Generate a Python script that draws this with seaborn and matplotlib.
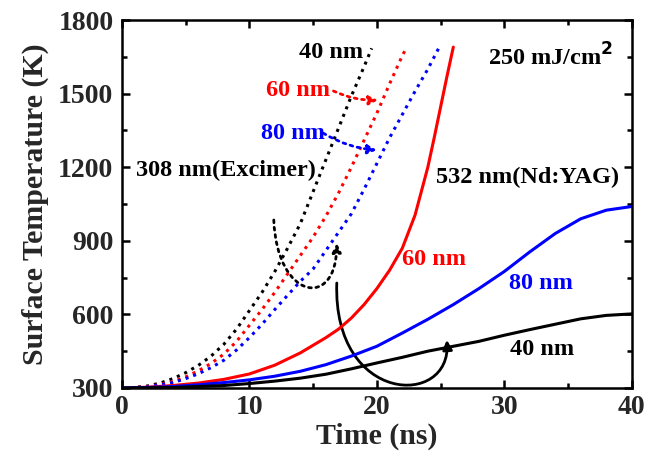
import pandas as pd
import numpy as np
import seaborn as sns
import matplotlib.pyplot as plt
from matplotlib.ticker import MultipleLocator
from matplotlib.patches import FancyArrowPatch
from matplotlib.path import Path

# 308 nm (Excimer) - dotted curves
t_exc_40 = [0, 1, 2, 3, 4, 5, 6, 7, 8, 9, 10, 11, 12, 13, 14, 15, 16, 17, 18, 19, 19.6]
T_exc_40 = [300, 302, 308, 320, 338, 362, 392, 430, 478, 540, 615, 690, 775, 870, 970, 1100, 1230, 1360, 1490, 1610, 1685]

t_exc_60 = [0, 1, 2, 3, 4, 5, 6, 7, 8, 9, 10, 11, 12, 13, 14, 15, 16, 17, 18, 19, 20, 21, 22, 22.3]
T_exc_60 = [300, 302, 306, 314, 326, 345, 370, 400, 438, 490, 555, 620, 690, 765, 840, 915, 1000, 1095, 1200, 1310, 1420, 1540, 1655, 1685]

t_exc_80 = [0, 1, 2, 3, 4, 5, 6, 7, 8, 9, 10, 11, 12, 13, 14, 15, 16, 17, 18, 19, 20, 21, 22, 23, 24, 24.9]
T_exc_80 = [300, 301, 305, 312, 322, 338, 358, 383, 413, 455, 505, 560, 620, 678, 735, 785, 860, 935, 1010, 1110, 1215, 1320, 1415, 1510, 1600, 1690]

# 532 nm (Nd:YAG) - solid curves
t_yag_60 = [0, 2, 4, 6, 8, 10, 12, 14, 16, 17, 18, 19, 20, 21, 22, 23, 24, 24.5, 25, 25.5, 26]
T_yag_60 = [300, 303, 310, 320, 335, 357, 393, 443, 505, 540, 585, 640, 705, 780, 870, 1005, 1200, 1320, 1445, 1570, 1690]

t_yag_80 = [0, 2, 4, 6, 8, 10, 12, 14, 16, 18, 20, 22, 24, 26, 28, 30, 32, 34, 36, 38, 40]
T_yag_80 = [300, 302, 306, 313, 322, 333, 348, 368, 395, 430, 470, 524, 580, 640, 705, 775, 855, 930, 990, 1025, 1040]

t_yag_40 = [0, 4, 8, 10, 12, 14, 16, 18, 20, 22, 24, 26, 28, 30, 32, 34, 36, 38, 40]
T_yag_40 = [300, 302, 310, 318, 328, 340, 356, 378, 402, 425, 450, 470, 490, 515, 538, 560, 582, 596, 602]

sns.set_style("ticks")
plt.rcParams['font.family'] = ['Liberation Serif', 'DejaVu Serif']
plt.rcParams['font.weight'] = 'bold'
plt.rcParams['axes.labelweight'] = 'bold'

fig = plt.figure(figsize=(6.48, 4.68), dpi=100)
ax = fig.add_axes([0.188, 0.171, 0.787, 0.786])

lw = 2.2
for t, T, c in [(t_exc_40, T_exc_40, 'black'), (t_exc_60, T_exc_60, 'red'), (t_exc_80, T_exc_80, 'blue')]:
    sns.lineplot(x=t, y=T, color=c, linestyle=':', linewidth=lw, ax=ax)
for t, T, c in [(t_yag_60, T_yag_60, 'red'), (t_yag_80, T_yag_80, 'blue'), (t_yag_40, T_yag_40, 'black')]:
    sns.lineplot(x=t, y=T, color=c, linestyle='-', linewidth=lw, ax=ax)

ax.set_xlim(0, 40)
ax.set_ylim(300, 1800)
ax.xaxis.set_major_locator(MultipleLocator(10))
ax.xaxis.set_minor_locator(MultipleLocator(5))
ax.yaxis.set_major_locator(MultipleLocator(300))
ax.yaxis.set_minor_locator(MultipleLocator(150))
ax.tick_params(which='both', direction='in', top=True, right=True, width=1.8, color='black')
ax.tick_params(which='major', length=6, labelsize=20)
ax.tick_params(axis='x', which='major', pad=5)
ax.tick_params(axis='y', which='major', pad=6)
ax.tick_params(which='minor', length=3.5)
for s in ax.spines.values():
    s.set_linewidth(1.8)
    s.set_color('black')

ax.set_xlabel('Time (ns)', fontsize=21.5, labelpad=2)
ax.set_ylabel('Surface Temperature (K)', fontsize=21.5, labelpad=7)

fs = 17.5
ax.text(18.9, 1670, '40 nm', color='black', fontsize=fs, ha='right', va='center')
ax.text(13.8, 1515, '60 nm', color='red', fontsize=fs, ha='center', va='center')
ax.text(13.4, 1339, '80 nm', color='blue', fontsize=fs, ha='center', va='center')
ax.text(8.2, 1189, '308 nm(Excimer)', color='black', fontsize=fs, ha='center', va='center')
ax.text(33.6, 1649, '250 mJ/cm$^\\mathbf{2}$', color='black', fontsize=fs, ha='center', va='center')
ax.text(31.8, 1160, '532 nm(Nd:YAG)', color='black', fontsize=fs, ha='center', va='center')
ax.text(24.5, 822, '60 nm', color='red', fontsize=fs, ha='center', va='center')
ax.text(32.9, 728, '80 nm', color='blue', fontsize=fs, ha='center', va='center')
ax.text(33.0, 455, '40 nm', color='black', fontsize=fs, ha='center', va='center')

# straight-ish dotted arrows
ax.annotate('', xy=(20.1, 1474), xytext=(16.6, 1511),
            arrowprops=dict(arrowstyle='-|>', color='red', linestyle=':', lw=2,
                            mutation_scale=13, shrinkA=0, shrinkB=0,
                            connectionstyle='arc3,rad=0.12'))
ax.annotate('', xy=(20.0, 1270), xytext=(15.8, 1339),
            arrowprops=dict(arrowstyle='-|>', color='blue', linestyle=':', lw=2,
                            mutation_scale=13, shrinkA=0, shrinkB=0,
                            connectionstyle='arc3,rad=0.12'))

# curved arrows (cubic paths in data coordinates)
codes = [Path.MOVETO, Path.CURVE4, Path.CURVE4, Path.CURVE4]
dot_path = Path([(11.92, 985), (12.16, 659), (16.86, 618), (16.86, 891)], codes)
ax.add_patch(FancyArrowPatch(path=dot_path, arrowstyle='-|>', color='black', linestyle=':',
                             lw=2, mutation_scale=13, transform=ax.transData, clip_on=False))
sol_path = Path([(16.86, 728), (16.55, 231), (25.88, 218), (25.49, 496)], codes)
ax.add_patch(FancyArrowPatch(path=sol_path, arrowstyle='-|>', color='black',
                             lw=2, mutation_scale=14, transform=ax.transData, clip_on=False))

fig.savefig('out.png', dpi=100)
